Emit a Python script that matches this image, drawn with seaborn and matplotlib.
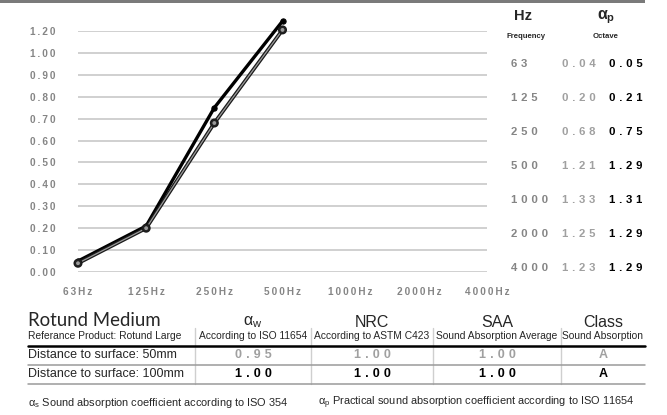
import numpy as np
import pandas as pd
import matplotlib
matplotlib.use('Agg')
import matplotlib.pyplot as plt
import matplotlib.patheffects as pe
import seaborn as sns

# ── Data ────────────────────────────────────────────────
freq_labels = ['63Hz', '125Hz', '250Hz', '500Hz', '1000Hz', '2000Hz', '4000Hz']
freq_hz = ['63', '125', '250', '500', '1000', '2000', '4000']
alpha_50mm = [0.04, 0.20, 0.68, 1.21, 1.33, 1.25, 1.23]
alpha_100mm = [0.05, 0.21, 0.75, 1.29, 1.31, 1.29, 1.29]
n_plotted = 4  # printed curve stops at 500Hz
y_ticks = [0.0, 0.1, 0.2, 0.3, 0.4, 0.5, 0.6, 0.7, 0.8, 0.9, 1.0, 1.2]

product = 'Rotund Medium'
reference = 'Referance Product: Rotund Large'
col_titles = [r'$\mathregular{\alpha_w}$', 'NRC', 'SAA', 'Class']
col_notes = ['According to ISO 11654', 'According to ASTM C423',
             'Sound Absorption Average', 'Sound Absorption']
row_labels = ['Distance to surface: 50mm', 'Distance to surface: 100mm']
row_50mm = ['0.95', '1.00', '1.00', 'A']
row_100mm = ['1.00', '1.00', '1.00', 'A']
footnotes = [r'$\mathregular{\alpha_s}$ Sound absorption coefficient according to ISO 354',
             r'$\mathregular{\alpha_p}$ Practical sound absorption coefficient according to ISO 11654']

GREY = '#858585'
W, H = 667, 415


def spaced(s, gap='\u2009'):
    return gap.join(s)


# y axis is squeezed above 1.00 (1.00 -> 1.20 takes one grid step)
def fwd(v):
    v = np.asarray(v, dtype=float)
    return np.where(v <= 1, v, 1 + (v - 1) / 2)


def inv(t):
    t = np.asarray(t, dtype=float)
    return np.where(t <= 1, t, 1 + (t - 1) * 2)


sns.set_theme(style='white')
plt.rcParams['font.family'] = ['Liberation Sans', 'DejaVu Sans']

fig = plt.figure(figsize=(W / 100, H / 100), dpi=100)

# page layer in pixel coordinates
page = fig.add_axes([0, 0, 1, 1])
page.set_xlim(0, W)
page.set_ylim(H, 0)
page.axis('off')

# ── Chart ───────────────────────────────────────────────
ax = fig.add_axes([78 / W, 1 - 272 / H, (487 - 78) / W, (272 - 31) / H])
ax.patch.set_alpha(0)

df = pd.DataFrame({'pos': np.arange(len(freq_labels)),
                   'a50': alpha_50mm, 'a100': alpha_100mm}).iloc[:n_plotted]

sns.lineplot(data=df, x='pos', y='a100', ax=ax, color='black', linewidth=2.4,
             marker='o', markersize=3.8, markeredgecolor='black', clip_on=False, zorder=3)
sns.lineplot(data=df, x='pos', y='a50', ax=ax, color='#9a9a9a', linewidth=0.9,
             marker='o', markersize=3.8, markerfacecolor='#9a9a9a', markeredgecolor='#222222',
             markeredgewidth=1.0, clip_on=False, zorder=4,
             path_effects=[pe.Stroke(linewidth=2.7, foreground='#1a1a1a'), pe.Normal()])

ax.set_yscale('function', functions=(fwd, inv))
ax.set_xlim(0, len(freq_labels) - 1)
ax.set_ylim(0, 1.2)
ax.set_yticks(y_ticks)
ax.set_yticklabels([spaced(f'{t:.2f}') for t in y_ticks])
ax.set_xticks(np.arange(len(freq_labels)))
ax.set_xticklabels([spaced(f) for f in freq_labels])
ax.tick_params(axis='y', length=0, pad=16, labelsize=7.2, labelcolor=GREY)
ax.tick_params(axis='x', length=0, pad=11, labelsize=7.2, labelcolor=GREY)
for lab in ax.get_xticklabels() + ax.get_yticklabels():
    lab.set_fontweight('bold')
ax.yaxis.grid(True, color='#c4c4c4', linewidth=1.1)
ax.xaxis.grid(False)
ax.set_xlabel('')
ax.set_ylabel('')
sns.despine(ax=ax, left=True, bottom=True)

# ── Top bar ─────────────────────────────────────────────
page.fill_between([0, 645], 0, 3, color='#7a7a7a', lw=0)

# ── Right panel: octave values ─────────────────────────
page.text(523, 16, 'Hz', ha='center', va='center', fontsize=10.5, fontweight='bold')
page.text(526, 37, 'Frequency', ha='center', va='center', fontsize=5.6, fontweight='bold')
page.text(606, 17, r'$\mathregular{\alpha_p}$', ha='center', va='center', fontsize=11.5,
          fontweight='bold')
page.text(606, 37, 'Octave', ha='center', va='center', fontsize=5.6, fontweight='bold')
for i, (f, a, b) in enumerate(zip(freq_hz, alpha_50mm, alpha_100mm)):
    y = 64 + 34 * i
    page.text(511, y, spaced(f, '\u2004'), ha='left', va='center', fontsize=8.2,
              fontweight='bold', color=GREY)
    page.text(562, y, spaced(f'{a:.2f}', '\u2004'), ha='left', va='center', fontsize=8.2,
              fontweight='bold', color='#a0a0a0')
    page.text(609, y, spaced(f'{b:.2f}', '\u2004'), ha='left', va='center', fontsize=8.2,
              fontweight='bold', color='black')

# ── Table ──────────────────────────────────────────────
col_x = [253, 372, 497, 603]
sep_x = [195, 311, 433, 561]
page.text(28, 320, product, ha='left', va='center', fontsize=13.4, family='Lato')
page.text(28, 336, reference, ha='left', va='center', fontsize=7.4)
for cx, t, n in zip(col_x, col_titles, col_notes):
    page.text(cx, 322, t, ha='center', va='center', fontsize=11.5)
    page.text(cx, 336, n, ha='center', va='center', fontsize=7.4)
for sx in sep_x:
    page.plot([sx, sx], [328, 384], color='#cfcfcf', lw=1.0)
page.plot([28, 645], [346, 346], color='black', lw=1.8)
page.plot([28, 645], [364.5, 364.5], color='#9a9a9a', lw=1.1)
page.plot([28, 645], [383.5, 383.5], color='#9a9a9a', lw=1.1)
for y, lab, vals, colr in [(355, row_labels[0], row_50mm, '#a0a0a0'),
                           (374, row_labels[1], row_100mm, 'black')]:
    page.text(28, y, lab, ha='left', va='center', fontsize=9)
    for cx, v in zip(col_x, vals):
        page.text(cx, y, spaced(v, '\u2004'), ha='center', va='center', fontsize=9,
                  fontweight='bold', color=colr)

page.text(28, 403, footnotes[0], ha='left', va='center', fontsize=7.9)
page.text(318, 403, footnotes[1], ha='left', va='center', fontsize=7.9)

fig.savefig('out.png', dpi=100)
